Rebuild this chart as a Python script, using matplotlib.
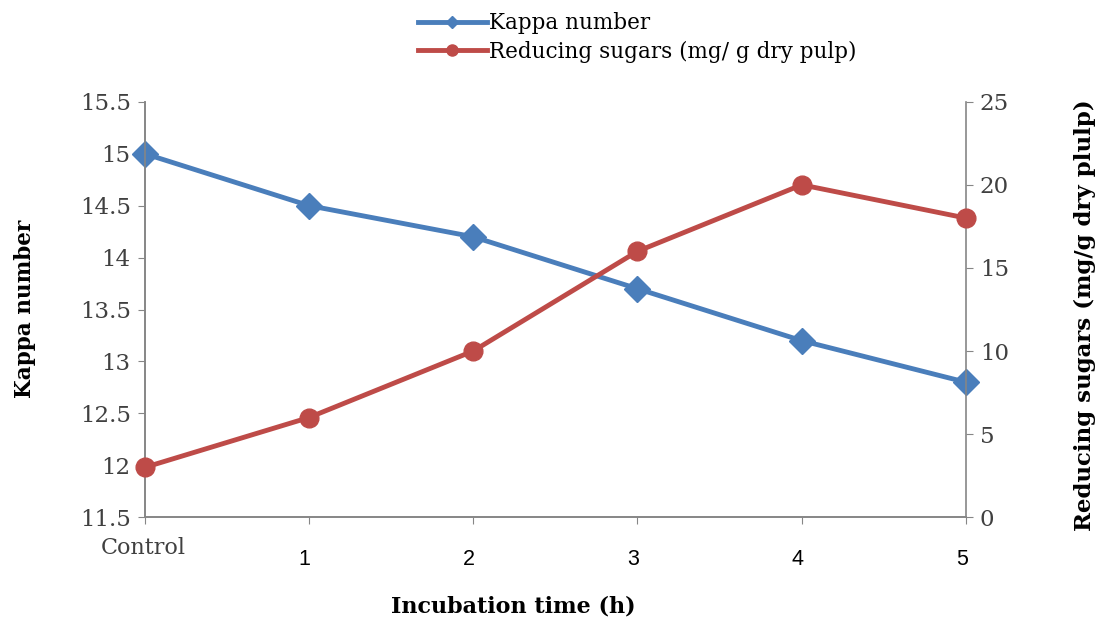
import matplotlib

matplotlib.use("Agg")
import matplotlib.pyplot as plt
from matplotlib.lines import Line2D

categories = ["Control", "1", "2", "3", "4", "5"]
kappa = [15.0, 14.5, 14.2, 13.7, 13.2, 12.8]
sugars = [3, 6, 10, 16, 20, 18]
kappa_ticks = [11.5, 12, 12.5, 13, 13.5, 14, 14.5, 15, 15.5]
sugar_ticks = [0, 5, 10, 15, 20, 25]

BLUE = "#4A7EBB"
RED = "#BE4B48"
GREY = "#868686"
TXT = "#404040"
SERIF = "DejaVu Serif"


def main():
    fig = plt.figure(figsize=(11.04, 6.24), dpi=100)
    ax = fig.add_axes([0.131, 0.171, 0.744, 0.666])
    ax2 = ax.twinx()

    x = list(range(len(categories)))
    ax.plot(x, kappa, "-D", color=BLUE, lw=3.5, ms=13, zorder=3, clip_on=False)
    ax2.plot(x, sugars, "-o", color=RED, lw=3.5, ms=13.5, zorder=3, clip_on=False)

    ax.set_xlim(0, 5)
    ax.set_ylim(11.5, 15.5)
    ax2.set_ylim(0, 25)
    ax.set_yticks(kappa_ticks)
    ax.set_yticklabels([f"{v:g}" for v in kappa_ticks], fontsize=16.5, family=SERIF, color=TXT)
    ax2.set_yticks(sugar_ticks)
    ax2.set_yticklabels([str(v) for v in sugar_ticks], fontsize=16.5, family=SERIF, color=TXT)
    ax.set_xticks(x)
    ax.set_xticklabels([])
    ax.tick_params(axis="x", length=5, color=GREY)
    ax.tick_params(axis="y", length=5, color=GREY, pad=5)
    ax2.tick_params(axis="y", length=5, color=GREY, pad=5)

    # category labels: "Control" in serif, numbers in sans, sitting lower
    for xi, lab in zip(x, categories):
        if lab == "Control":
            ax.annotate(lab, (xi, 0), xycoords=("data", "axes fraction"), xytext=(-1, -14),
                        textcoords="offset points", ha="center", va="top",
                        fontsize=16, family=SERIF, color=TXT)
        else:
            ax.annotate(lab, (xi, 0), xycoords=("data", "axes fraction"), xytext=(-3, -23),
                        textcoords="offset points", ha="center", va="top",
                        fontsize=15.5, family="Liberation Sans", color="black")

    for a in (ax, ax2):
        a.spines["top"].set_visible(False)
        for s in ("left", "right", "bottom"):
            a.spines[s].set_color(GREY)
            a.spines[s].set_linewidth(1.2)
    ax.spines["right"].set_visible(False)

    fig.text(0.023, 0.505, "Kappa number", rotation=90, ha="center", va="center",
             fontsize=15.5, fontweight="bold", family=SERIF)
    fig.text(0.983, 0.495, "Reducing sugars (mg/g dry plulp)", rotation=90, ha="center",
             va="center", fontsize=16.5, fontweight="bold", family=SERIF)
    fig.text(0.465, 0.028, "Incubation time (h)", ha="center", va="center",
             fontsize=16, fontweight="bold", family=SERIF)

    handles = [Line2D([], [], color=BLUE, lw=3.5, marker="D", ms=6),
               Line2D([], [], color=RED, lw=3.5, marker="o", ms=8)]
    fig.legend(handles, ["Kappa number", "Reducing sugars (mg/ g dry pulp)"],
               loc="center", bbox_to_anchor=(0.577, 0.94), frameon=False,
               prop={"family": SERIF, "size": 15.5}, handlelength=3.2,
               handletextpad=0.1, labelspacing=0.3, borderpad=0)

    fig.savefig("out.png", dpi=100)
    plt.close(fig)


if __name__ == "__main__":
    main()
